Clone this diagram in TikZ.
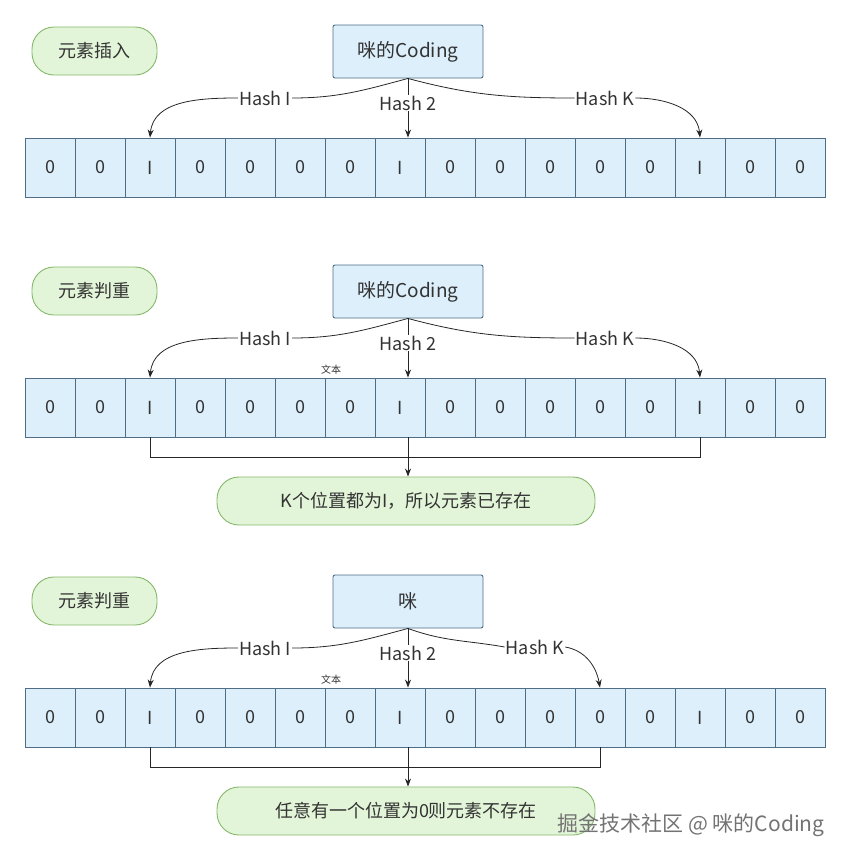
\documentclass[tikz,border=0pt]{standalone}
\usepackage{fontspec}
\setmainfont{Noto Sans CJK SC}
\usetikzlibrary{arrows.meta}
\definecolor{cellf}{HTML}{DCEFFB}
\definecolor{celld}{HTML}{4F6D84}
\definecolor{grf}{HTML}{E3F5D9}
\definecolor{grd}{HTML}{86B86A}
\definecolor{txt}{HTML}{333333}
\tikzset{
  cell/.style={draw=celld,fill=cellf,line width=0.9pt,minimum width=50pt,minimum height=59pt,inner sep=0pt,font=\fontsize{18}{18}\selectfont,text=txt},
  srcbox/.style={draw=celld,fill=cellf,line width=0.9pt,rounded corners=2pt,minimum width=150pt,minimum height=53pt,font=\fontsize{19}{19}\selectfont,text=txt},
  tag/.style={draw=grd,fill=grf,line width=0.9pt,rounded corners=22pt,minimum width=125pt,minimum height=48pt,font=\fontsize{18}{18}\selectfont,text=txt},
  res/.style={draw=grd,fill=grf,line width=0.9pt,rounded corners=22pt,minimum width=378pt,minimum height=48pt,font=\fontsize{18}{18}\selectfont,text=txt},
  hl/.style={fill=white,inner sep=1pt,font=\fontsize{18}{18}\selectfont,text=txt},
  arr/.style={-{Stealth[length=8pt,width=6pt]},line width=0.8pt,draw=black!85},
  ln/.style={line width=0.8pt,draw=black!85}
}
\begin{document}
\begin{tikzpicture}[x=1pt,y=-1pt]
\useasboundingbox (0,0) rectangle (849,860);
% ---------- block 1
\node[tag] (t1) at (94.5,51) {元素插入};
\node[srcbox] (s1) at (408,51.5) {咪的Coding};
\foreach \v [count=\i] in {0,0,1,0,0,0,0,1,0,0,0,0,0,1,0,0}
  \node[cell] (a\i) at (50*\i,167.5) {\ifnum\v=1 I\else 0\fi};
\node[hl] (a h1) at (265,98) {Hash I};
\node[hl] (a h2) at (408,103) {Hash 2};
\node[hl] (a hk) at (605,98) {Hash K};
\draw[ln] (s1.south) to[out=195,in=0] (a h1.east);
\draw[arr] (a h1.west) to[out=180,in=85] (a3.north);
\draw[ln] (s1.south) -- (a h2.north);
\draw[arr] (a h2.south) -- (a h2.south |- a8.north);
\draw[ln] (s1.south) to[out=-15,in=180] (a hk.west);
\draw[arr] (a hk.east) to[out=0,in=95] (a14.north);
% ---------- block 2
\node[tag] (t2) at (94.5,291) {元素判重};
\node[srcbox] (s2) at (408,291.5) {咪的Coding};
\foreach \v [count=\i] in {0,0,1,0,0,0,0,1,0,0,0,0,0,1,0,0}
  \node[cell] (b\i) at (50*\i,407.5) {\ifnum\v=1 I\else 0\fi};
\node[hl] (b h1) at (265,338) {Hash I};
\node[hl] (b h2) at (408,343) {Hash 2};
\node[hl] (b hk) at (605,338) {Hash K};
\node[font=\fontsize{10}{10}\selectfont,text=txt] (b tx) at (331,370) {文本};
\draw[ln] (s2.south) to[out=195,in=0] (b h1.east);
\draw[arr] (b h1.west) to[out=180,in=85] (b3.north);
\draw[ln] (s2.south) -- (b h2.north);
\draw[arr] (b h2.south) -- (b h2.south |- b8.north);
\draw[ln] (s2.south) to[out=-15,in=180] (b hk.west);
\draw[arr] (b hk.east) to[out=0,in=95] (b14.north);
\node[res] (r2) at (406,501) {K个位置都为I，所以元素已存在};
\coordinate (j2) at (408,457);
\draw[ln] (b3.south) |- (j2);
\draw[ln] (b14.south) |- (j2);
\draw[arr] (j2 |- b8.south) -- (j2 |- r2.north);
% ---------- block 3
\node[tag] (t3) at (94.5,601) {元素判重};
\node[srcbox] (s3) at (408,601.5) {咪};
\foreach \v [count=\i] in {0,0,1,0,0,0,0,1,0,0,0,0,0,1,0,0}
  \node[cell] (c\i) at (50*\i,717.5) {\ifnum\v=1 I\else 0\fi};
\node[hl] (c h1) at (265,648) {Hash I};
\node[hl] (c h2) at (408,653) {Hash 2};
\node[hl] (c hk) at (535,647) {Hash K};
\node[font=\fontsize{10}{10}\selectfont,text=txt] (c tx) at (331,680) {文本};
\draw[ln] (s3.south) to[out=195,in=0] (c h1.east);
\draw[arr] (c h1.west) to[out=180,in=85] (c3.north);
\draw[ln] (s3.south) -- (c h2.north);
\draw[arr] (c h2.south) -- (c h2.south |- c8.north);
\draw[ln] (s3.south) to[out=-20,in=170] (c hk.west);
\draw[arr] (c hk.east) to[out=-10,in=100] (c12.north);
\node[res] (r3) at (406,811) {任意有一个位置为0则元素不存在};
\coordinate (j3) at (408,767);
\draw[ln] (c3.south) |- (j3);
\draw[ln] (c12.south) |- (j3);
\draw[arr] (j3 |- c8.south) -- (j3 |- r3.north);
\node[anchor=south east,font=\fontsize{21}{21}\selectfont,text=black!55] (wm) at (828,840) {掘金技术社区 @ 咪的Coding};
\end{tikzpicture}
\end{document}
